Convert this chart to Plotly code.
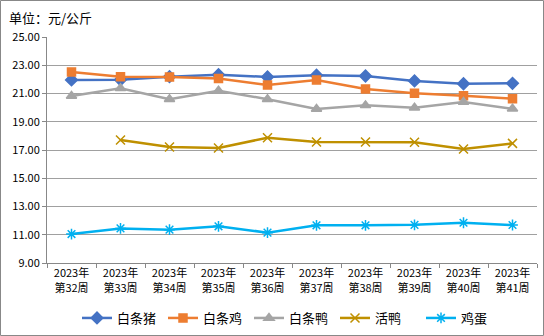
import plotly.graph_objects as go

weeks = ["2023年<br>第32周", "2023年<br>第33周", "2023年<br>第34周", "2023年<br>第35周", "2023年<br>第36周",
         "2023年<br>第37周", "2023年<br>第38周", "2023年<br>第39周", "2023年<br>第40周", "2023年<br>第41周"]
pork = [21.96, 21.97, 22.19, 22.33, 22.17, 22.29, 22.24, 21.89, 21.69, 21.72]
chicken = [22.52, 22.19, 22.17, 22.07, 21.60, 21.96, 21.32, 21.01, 20.84, 20.63]
duck = [20.82, 21.37, 20.60, 21.20, 20.60, 19.90, 20.16, 19.99, 20.40, 19.92]
live_duck = [None, 17.71, 17.21, 17.14, 17.87, 17.57, 17.57, 17.55, 17.07, 17.47]
egg = [11.05, 11.45, 11.36, 11.60, 11.15, 11.67, 11.67, 11.70, 11.85, 11.69]

series = [
    ("白条猪", pork, "#4472C4", "diamond", 9),
    ("白条鸡", chicken, "#ED7D31", "square", 8),
    ("白条鸭", duck, "#A5A5A5", "triangle-up", 9),
    ("活鸭", live_duck, "#BF9000", "x-thin-open", 9),
    ("鸡蛋", egg, "#00B0F0", "asterisk-open", 9),
]

fig = go.Figure()
for name, vals, color, sym, size in series:
    fig.add_trace(go.Scatter(
        x=weeks, y=vals, name=name, mode="lines+markers",
        line=dict(color=color, width=2.5),
        marker=dict(symbol=sym, size=size, color=color, line=dict(color=color, width=1.5)),
        connectgaps=False,
    ))

font = "Noto Sans CJK SC"
PW, PH = 490, 226
fig.update_layout(
    width=544, height=336,
    margin=dict(l=47, r=7, t=37, b=73, autoexpand=False),
    paper_bgcolor="white", plot_bgcolor="white",
    font=dict(family=font, size=11, color="#000000"),
    showlegend=True,
    legend=dict(orientation="h", x=0.5, xanchor="center", yref="container", y=(336 - 318) / 336,
                yanchor="middle", font=dict(size=13), tracegroupgap=0, itemwidth=30,
                entrywidth=41, entrywidthmode="pixels"),
    annotations=[dict(text="单位：元/公斤", xref="paper", yref="paper", x=-40 / PW, y=1 + 20 / PH,
                      xanchor="left", yanchor="middle", showarrow=False,
                      font=dict(size=13, family=font))],
)
fig.update_xaxes(
    type="category", showgrid=False, showline=True, linecolor="#888888", linewidth=1,
    ticks="outside", tickson="boundaries", ticklen=4, tickcolor="#888888",
    tickfont=dict(size=11), range=[-0.5, 9.5],
)
fig.update_yaxes(
    range=[9, 25], dtick=2, tick0=9, tickformat=".2f", showgrid=True, gridcolor="#A0A0A0",
    gridwidth=1, showline=True, linecolor="#888888", linewidth=1, zeroline=False,
    ticks="outside", ticklen=4, tickcolor="#888888", tickfont=dict(size=11),
)
# outer border
fig.add_shape(type="rect", xref="paper", yref="paper", x0=-46.5 / PW, y0=-72.5 / PH,
              x1=1 + 6.5 / PW, y1=1 + 36.5 / PH,
              line=dict(color="#888888", width=1), fillcolor="rgba(0,0,0,0)")
fig.write_html("out.html")
